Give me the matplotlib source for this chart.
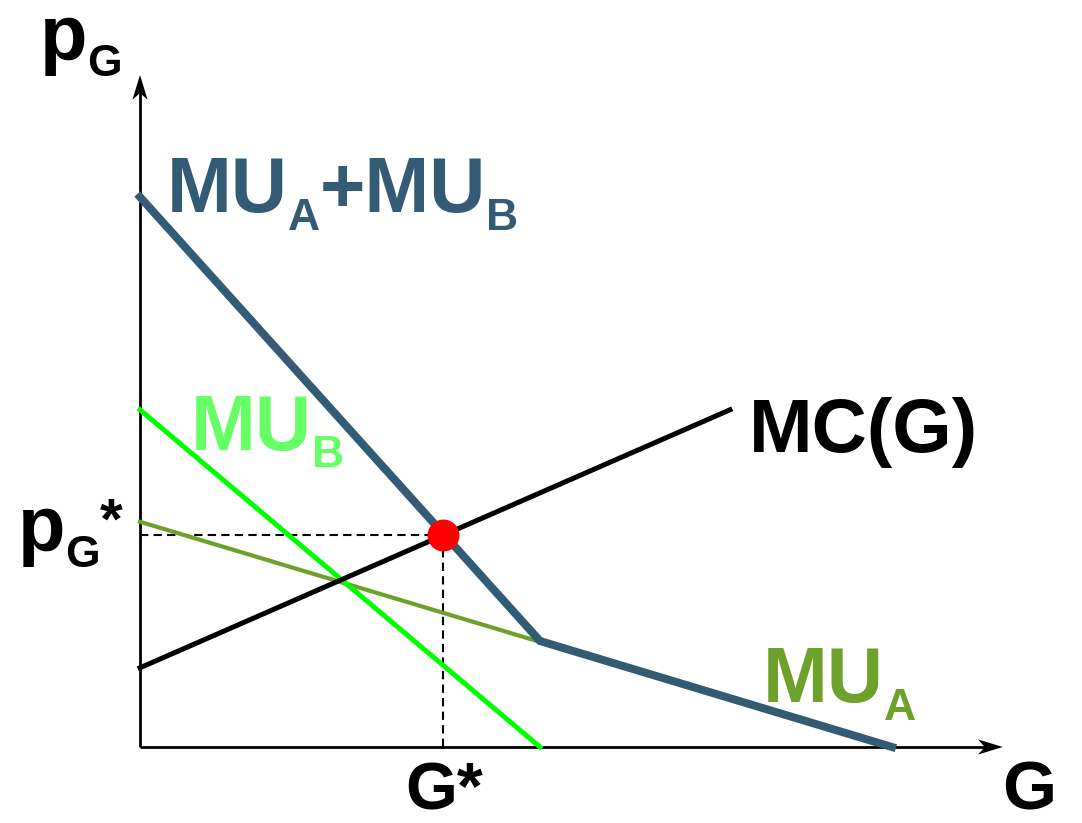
import matplotlib.pyplot as plt
from matplotlib.patches import Polygon

# curve data (G on x, price on y)
g_mu_b = [0, 10.0]
mu_b = [8.43, 0.0]

g_mu_a = [0, 18.75]
mu_a = [5.63, 0.0]

g_sum = [0, 10.0, 18.8]
mu_sum = [13.75, 2.65, 0.0]

g_mc = [0, 14.75]
mc = [1.98, 8.43]

g_star = 7.58
p_star = 5.3

x_axis_end = 21.57
y_axis_end = 16.8

FONT = 'Liberation Sans'
PX = 40.0  # pixels per data unit

fig = plt.figure(figsize=(10.82, 8.23), dpi=100)
ax = fig.add_axes([0, 0, 1, 1])
ax.set_xlim(-140 / PX, (1082 - 140) / PX)
ax.set_ylim(-(823 - 747) / PX, 747 / PX)
ax.axis('off')
renderer = fig.canvas.get_renderer()


def px(x, y):
    return (x - 140) / PX, (747 - y) / PX


def chain(x, y, parts, color):
    # parts: (text, fontsize, baseline shift in px)
    cx = x
    for s, size, drop in parts:
        t = ax.text(*px(cx, y + drop), s, fontsize=size, color=color,
                    fontweight='bold', family=FONT, va='baseline', ha='left')
        cx += t.get_window_extent(renderer).width


# axes with arrow heads
ax.plot([0, 0], [0, y_axis_end - 0.3], color='black', lw=2, solid_capstyle='butt', zorder=2)
ax.plot([0, x_axis_end - 0.3], [0, 0], color='black', lw=2, solid_capstyle='butt', zorder=2)
ax.add_patch(Polygon([(x_axis_end, 0), (x_axis_end - 0.62, 0.19),
                      (x_axis_end - 0.45, 0), (x_axis_end - 0.62, -0.19)],
                     closed=True, color='black', lw=0, zorder=2))
ax.add_patch(Polygon([(0, y_axis_end), (0.19, y_axis_end - 0.62),
                      (0, y_axis_end - 0.45), (-0.19, y_axis_end - 0.62)],
                     closed=True, color='black', lw=0, zorder=2))

# dashed guides
ax.plot([0, g_star], [p_star, p_star], color='black', lw=1.5, ls=(0, (4, 2.5)), zorder=2)
ax.plot([g_star, g_star], [0, p_star], color='black', lw=1.5, ls=(0, (4, 2.5)), zorder=2)

# curves
ax.plot(g_mu_a, mu_a, color='#6ea12a', lw=3, zorder=3)
ax.plot(g_mu_b, mu_b, color='#00ff00', lw=3.6, zorder=4)
ax.plot(g_mc, mc, color='black', lw=3.6, zorder=5)
ax.plot(g_sum, mu_sum, color='#345b74', lw=5.8, zorder=6, solid_joinstyle='miter')
ax.plot([g_star], [p_star], 'o', color='#ff0000', ms=23, mec='none', zorder=7)

# labels
BIG, SUB = 56, 32
chain(40, 60, [('p', BIG, 0), ('G', SUB, 16)], 'black')
chain(167, 212, [('MU', BIG, 0), ('A', SUB, 18), ('+MU', BIG, 0), ('B', SUB, 18)], '#345b74')
chain(191, 450, [('MU', BIG, 0), ('B', SUB, 17)], '#66ff66')
chain(749, 452, [('MC(G)', 55, 0)], 'black')
chain(763, 702, [('MU', BIG, 0), ('A', SUB, 18)], '#6ea12a')
chain(18, 551, [('p', BIG, 0), ('G', SUB, 16), ('*', 42, -12)], 'black')
chain(405, 809, [('G*', 48, 0)], 'black')
chain(1002, 809, [('G', 50, 0)], 'black')

fig.savefig('out.png', dpi=100)
